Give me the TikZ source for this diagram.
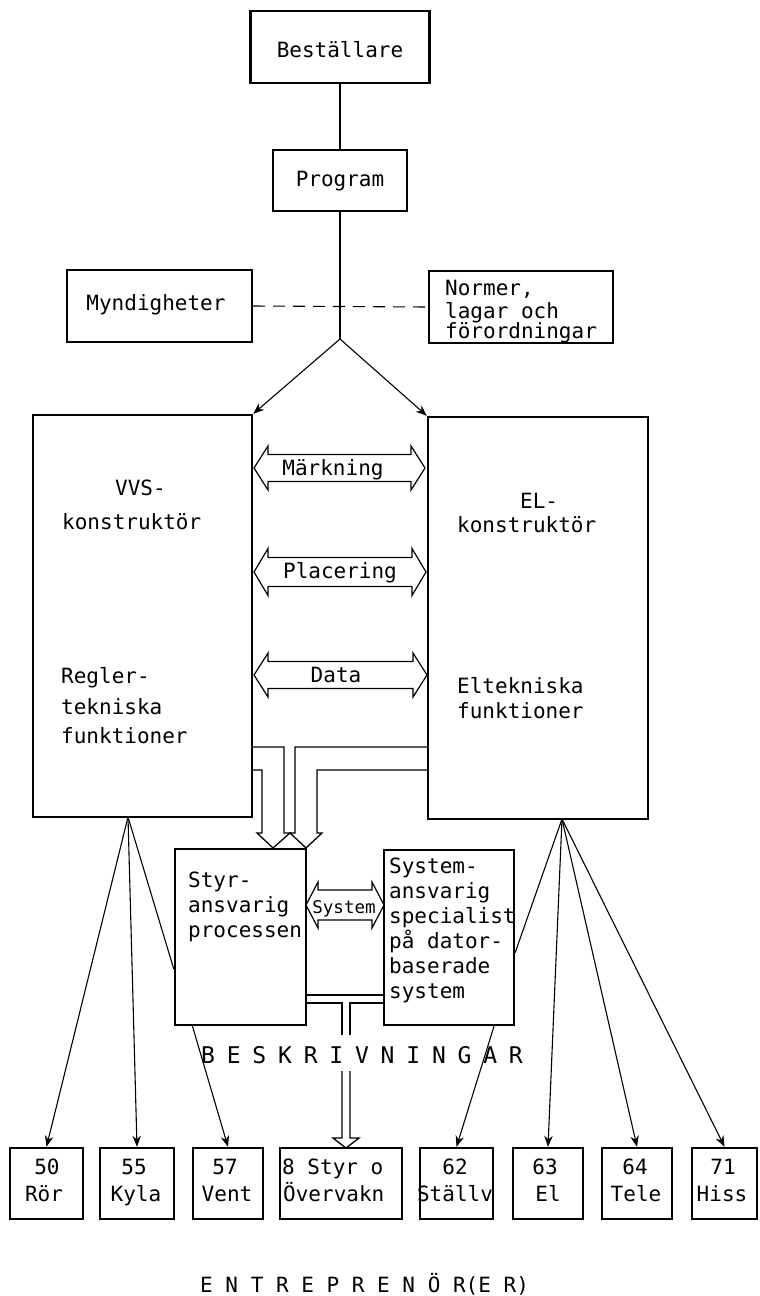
\documentclass[tikz,border=0pt]{standalone}
\usepackage{fontspec}
\usetikzlibrary{arrows.meta,calc}
\newfontfamily\djmono{DejaVu Sans Mono}
\newcommand\dgf{\djmono\fontsize{21}{25}\selectfont}
\newcommand\dgs{\djmono\fontsize{17.5}{20}\selectfont}
\newcommand\dgb{\djmono\fontsize{23}{27}\selectfont}
\newcommand\lsp{\hspace{11.8pt}}
% #1 x left, #2 x right, #3 y centre, #4 half shaft, #5 half head, #6 head length
\newcommand\dblarr[6]{%
  \draw[dbl] (#1,#3) -- (#1+#6,#3-#5) -- (#1+#6,#3-#4) -- (#2-#6,#3-#4) -- (#2-#6,#3-#5) -- (#2,#3)
    -- (#2-#6,#3+#5) -- (#2-#6,#3+#4) -- (#1+#6,#3+#4) -- (#1+#6,#3+#5) -- cycle;}
\begin{document}
\begin{tikzpicture}[x=1pt,y=-1pt,
  box/.style={draw, line width=2.4pt, inner sep=0pt},
  txt/.style={font=\dgf, inner sep=0pt, anchor=base west},
  ctxt/.style={font=\dgf, inner sep=0pt, anchor=base},
  conn/.style={line width=1.1pt},
  arr/.style={conn, -{Stealth[length=11pt,width=8.5pt]}},
  hol/.style={line width=1.3pt, line join=miter},
  dbl/.style={line width=1.2pt, line join=miter}]
\useasboundingbox (0,0) rectangle (760,1296);
\fill[white] (0,0) rectangle (760,1296);

% top
\node[box, minimum width=179pt, minimum height=72pt] (best) at (340,47) {};
\node[ctxt] (bestT) at (340,57) {Beställare};
\node[box, minimum width=134pt, minimum height=61pt] (prog) at (340,180.5) {};
\node[ctxt] (progT) at (340,186) {Program};
\node[box, minimum width=185pt, minimum height=72pt] (myn) at (159.5,306) {};
\node[ctxt] (mynT) at (156,310) {Myndigheter};
\node[box, minimum width=184pt, minimum height=72pt] (norm) at (521,307) {};
\node[txt] (norm1) at (445,295) {Normer,};
\node[txt] (norm2) at (445,318) {lagar och};
\node[txt] (norm3) at (445,338) {förordningar};
\coordinate (j) at (340,339);
\draw[conn] (best) -- (prog);
\draw[conn] (prog) -- (j);
\draw[conn, dash pattern=on 12pt off 8pt] (myn.east) -- (norm.west);

% big boxes
\node[box, minimum width=219pt, minimum height=402pt] (vvs) at (142.5,616) {};
\node[box, minimum width=220pt, minimum height=402pt] (el) at (538,618) {};
\draw[arr] (j) -- (vvs.north east);
\draw[arr] (j) -- (el.north west);
\node[txt] (v1) at (115,495) {VVS-};
\node[txt] (v2) at (62,529) {konstruktör};
\node[txt] (v3) at (61,683) {Regler-};
\node[txt] (v4) at (61,714) {tekniska};
\node[txt] (v5) at (61,743) {funktioner};
\node[txt] (e1) at (520,508) {EL-};
\node[txt] (e2) at (457,532) {konstruktör};
\node[txt] (e3) at (457,693) {Eltekniska};
\node[txt] (e4) at (457,718) {funktioner};

% double arrows between
\dblarr{254}{425}{468}{13.5}{22}{14}
\node[ctxt] (mark) at (333,475) {Märkning};
\dblarr{254}{426}{572}{14.5}{23.5}{14}
\node[ctxt] (plac) at (340,578) {Placering};
\dblarr{254}{427}{675}{13.5}{22}{14}
\node[ctxt] (data) at (336,682) {Data};

% hollow arrows into Styr
\draw[hol] (vvs.east |- 0,747) -- (284,747) -- (284,833) -- (290,833) -- (273,848) -- (257,833) -- (262,833) -- (262,770) -- (vvs.east |- 0,770);
\draw[hol] (el.west |- 0,747) -- (295,747) -- (295,833) -- (290,833) -- (306,848) -- (322,833) -- (317,833) -- (317,770) -- (el.west |- 0,770);

% middle boxes
\node[box, minimum width=131pt, minimum height=176pt] (styr) at (240.5,937) {};
\node[box, minimum width=130pt, minimum height=175pt] (sys) at (449,937.5) {};
\node[txt] (s1) at (188,887) {Styr-};
\node[txt] (s2) at (188,912) {ansvarig};
\node[txt] (s3) at (188,937) {processen};
\node[txt] (y1) at (389,873) {System-};
\node[txt] (y2) at (389,898) {ansvarig};
\node[txt] (y3) at (389,923) {specialist};
\node[txt] (y4) at (389,948) {på dator-};
\node[txt] (y5) at (389,973) {baserade};
\node[txt] (y6) at (389,998) {system};
\dblarr{306}{384}{905}{15}{23}{12}
\node[font=\dgs, inner sep=0pt, anchor=base] (sysl) at (344,913) {System};

% hollow arrow down
\draw[hol] (styr.east |- 0,995) -- (sys.west |- 0,995);
\draw[hol] (styr.east |- 0,1003) -- (342,1003) -- (342,1035);
\draw[hol] (sys.west |- 0,1003) -- (350,1003) -- (350,1035);
\draw[hol] (342,1071) -- (342,1138) -- (333,1138) -- (346,1148) -- (359,1138) -- (350,1138) -- (350,1071);
\node[font=\dgb, inner sep=0pt, anchor=base west] (besk) at (201,1063) {B\lsp E\lsp S\lsp K\lsp R\lsp I\lsp V\lsp N\lsp I\lsp N\lsp G\lsp A\lsp R};

% bottom boxes
\node[box, minimum width=73pt, minimum height=71pt] (ror) at (46.5,1183.5) {};
\node[box, minimum width=74pt, minimum height=71pt] (kyla) at (137,1183.5) {};
\node[box, minimum width=70pt, minimum height=71pt] (vent) at (228,1183.5) {};
\node[box, minimum width=122pt, minimum height=71pt] (styro) at (341,1183.5) {};
\node[box, minimum width=73pt, minimum height=71pt] (stallv) at (456.5,1183.5) {};
\node[box, minimum width=70pt, minimum height=71pt] (elb) at (548,1183.5) {};
\node[box, minimum width=70pt, minimum height=71pt] (tele) at (637,1183.5) {};
\node[box, minimum width=65pt, minimum height=71pt] (hiss) at (724.5,1183.5) {};
\node[ctxt] (b1a) at (47,1174) {50};
\node[ctxt] (b1b) at (44,1201) {Rör};
\node[ctxt] (b2a) at (134,1174) {55};
\node[ctxt] (b2b) at (136,1201) {Kyla};
\node[ctxt] (b3a) at (225,1174) {57};
\node[ctxt] (b3b) at (227,1201) {Vent};
\node[txt] (b4a) at (282,1174) {8 Styr o};
\node[txt] (b4b) at (283,1201) {Övervakn};
\node[ctxt] (b5a) at (455,1174) {62};
\node[ctxt] (b5b) at (455,1201) {Ställv};
\node[ctxt] (b6a) at (545,1174) {63};
\node[ctxt] (b6b) at (548,1201) {El};
\node[ctxt] (b7a) at (635,1174) {64};
\node[ctxt] (b7b) at (636,1201) {Tele};
\node[ctxt] (b8a) at (723,1174) {71};
\node[ctxt] (b8b) at (722,1201) {Hiss};

% fans
\coordinate (vf) at (128,817);
\draw[arr] (vf) -- (ror.north);
\draw[arr] (vf) -- (kyla.north);
\draw[conn] (vf) -- ($(styr.north west)!0.68!(styr.south west)$);
\draw[arr] ($(styr.south west)!0.14!(styr.south east)$) -- (vent.north);
\coordinate (ef) at (562,819);
\draw[conn] (ef) -- ($(sys.north east)!0.585!(sys.south east)$);
\draw[arr] (ef) -- (elb.north);
\draw[arr] (ef) -- (tele.north);
\draw[arr] (ef) -- (hiss.north);
\draw[arr] ($(sys.south west)!0.84!(sys.south east)$) -- (stallv.north);

\node[txt] (entr) at (200,1292) {E N T R E P R E N Ö R(E R)};
\end{tikzpicture}
\end{document}
